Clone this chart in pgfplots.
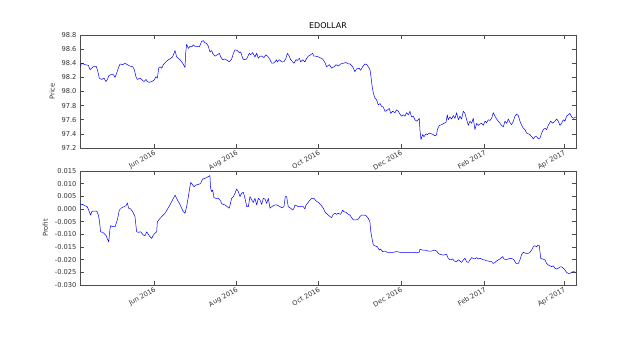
\documentclass[border=0pt]{standalone}
\usepackage{pgfplots}
\pgfplotsset{compat=1.18}
\usepackage{fontspec}
\setmainfont{DejaVu Sans}
\pgfplotsset{
  myax/.style={
    scale only axis, width=496pt, xmin=97, xmax=465,
    xtick={152,213,274,335,397,456},
    xticklabels={Jun 2016,Aug 2016,Oct 2016,Dec 2016,Feb 2017,Apr 2017},
    xticklabel style={rotate=30, anchor=north east, inner sep=1pt, font=\fontsize{6.7}{8}\selectfont, text=black!80},
    yticklabel style={font=\fontsize{6.7}{8}\selectfont, text=black!80},
    ylabel style={font=\fontsize{6.7}{8}\selectfont, text=black!80},
    tick align=inside, tick pos=both,
    major tick length=4pt,
    /pgf/number format/assume math mode=true,
    axis line style={black!70, line width=0.6pt},
    every tick/.style={black!70, line width=0.5pt},
    clip=true,
  },
  myline/.style={blue, line width=0.5pt, line join=round, mark=none},
}
\begin{document}
\begin{tikzpicture}[x=1pt,y=1pt]
\useasboundingbox (0,0) rectangle (640,356);
\begin{axis}[myax, at={(80pt,208pt)}, anchor=south west, height=113pt,
  ymin=97.2, ymax=98.8, ytick={97.2,97.4,...,98.81},
  yticklabel style={/pgf/number format/.cd, fixed, fixed zerofill, precision=1},
  ylabel={Price}, title={EDOLLAR}, title style={font=\fontsize{8}{9}\selectfont, yshift=-3pt}]
\addplot[myline] table {
97.0 98.35
98.2 98.40
100.7 98.38
103.2 98.37
104.4 98.31
105.7 98.33
106.9 98.35
108.9 98.36
109.9 98.31
111.3 98.19
113.1 98.17
114.8 98.19
116.3 98.14
117.3 98.17
118.3 98.22
119.8 98.24
121.7 98.24
123.0 98.20
124.2 98.26
125.4 98.33
126.7 98.39
128.7 98.38
130.4 98.40
132.1 98.38
134.1 98.36
136.1 98.35
137.3 98.31
138.5 98.21
139.5 98.17
141.5 98.19
142.8 98.17
144.5 98.14
146.0 98.17
147.0 98.14
148.4 98.13
150.2 98.14
151.9 98.16
153.4 98.21
154.4 98.19
155.4 98.33
156.4 98.35
157.6 98.33
158.8 98.38
160.8 98.42
162.5 98.45
164.3 98.47
165.7 98.49
166.7 98.54
167.5 98.58
168.7 98.49
170.0 98.47
171.2 98.45
173.2 98.40
174.9 98.34
175.4 98.54
176.1 98.67
177.4 98.61
178.6 98.64
179.8 98.63
181.1 98.66
182.3 98.64
184.0 98.64
185.5 98.63
187.3 98.71
188.5 98.72
189.7 98.69
191.0 98.68
192.2 98.64
193.4 98.56
194.7 98.58
195.4 98.54
197.2 98.50
198.9 98.52
200.4 98.54
201.4 98.49
202.8 98.45
204.6 98.46
206.3 98.44
207.8 98.42
209.5 98.46
210.8 98.54
212.0 98.59
213.7 98.58
215.2 98.55
216.2 98.56
217.7 98.47
218.7 98.45
220.6 98.46
222.6 98.54
223.6 98.52
225.1 98.55
226.8 98.49
228.1 98.54
229.3 98.47
230.5 98.50
231.8 98.50
233.5 98.48
235.0 98.52
236.7 98.49
238.0 98.45
239.2 98.40
240.4 98.40
241.7 98.42
242.9 98.45
243.4 98.42
244.9 98.45
246.6 98.42
248.3 98.42
249.8 98.47
250.8 98.54
252.3 98.50
253.3 98.45
254.8 98.42
255.8 98.40
257.3 98.45
258.2 98.44
259.7 98.47
260.7 98.42
262.2 98.45
263.9 98.42
265.2 98.47
266.4 98.50
268.1 98.52
269.6 98.54
270.6 98.50
272.1 98.50
273.8 98.49
275.0 98.48
277.0 98.46
278.7 98.41
280.0 98.35
282.0 98.38
283.7 98.33
285.4 98.35
286.9 98.38
288.6 98.36
290.4 98.39
292.4 98.40
294.3 98.41
296.1 98.39
297.3 98.39
299.3 98.35
301.0 98.28
302.2 98.32
304.2 98.33
305.2 98.30
306.7 98.35
308.4 98.39
309.7 98.38
310.9 98.35
312.1 98.31
312.9 98.21
313.6 98.09
314.6 97.98
315.8 97.91
317.1 97.88
318.3 97.81
319.6 97.83
320.8 97.79
322.0 97.78
323.3 97.72
324.5 97.73
326.5 97.76
327.5 97.69
329.0 97.72
330.7 97.70
331.9 97.74
333.2 97.72
334.4 97.68
335.6 97.65
336.9 97.67
338.1 97.65
339.3 97.70
340.6 97.67
341.8 97.72
343.0 97.64
344.3 97.65
345.5 97.60
346.8 97.58
348.0 97.60
348.7 97.62
349.2 97.46
350.0 97.32
351.2 97.39
352.2 97.36
353.7 97.40
354.7 97.39
356.2 97.41
357.9 97.40
359.1 97.39
360.4 97.37
361.6 97.39
362.1 97.46
363.6 97.52
365.3 97.53
367.0 97.55
368.5 97.56
369.5 97.67
370.2 97.60
371.5 97.64
372.7 97.61
374.0 97.66
375.2 97.62
376.4 97.70
377.7 97.60
378.9 97.65
380.1 97.61
381.4 97.72
382.6 97.69
383.9 97.60
385.1 97.52
386.3 97.58
387.6 97.55
388.8 97.62
390.0 97.46
391.3 97.55
392.5 97.52
393.7 97.54
395.0 97.55
396.2 97.52
397.5 97.58
398.7 97.56
399.9 97.60
401.2 97.59
402.4 97.62
403.6 97.70
404.9 97.65
406.1 97.61
407.3 97.58
408.6 97.55
409.8 97.52
411.1 97.50
412.3 97.58
413.5 97.55
414.8 97.61
416.0 97.56
417.2 97.53
418.5 97.58
419.7 97.65
420.9 97.68
422.2 97.66
423.4 97.58
424.7 97.52
425.9 97.48
427.1 97.46
428.4 97.41
429.6 97.40
430.8 97.39
432.1 97.36
433.3 97.33
434.5 97.36
435.8 97.36
437.0 97.33
438.3 97.34
439.5 97.41
440.7 97.46
442.0 97.48
443.2 97.46
444.4 97.52
446.2 97.58
447.7 97.55
449.4 97.58
450.6 97.61
451.9 97.58
453.1 97.52
454.3 97.55
455.6 97.60
456.8 97.58
458.0 97.65
459.3 97.67
460.5 97.69
461.7 97.64
463.0 97.62
465.0 97.64
};
\end{axis}
\begin{axis}[myax, at={(80pt,71pt)}, anchor=south west, height=114pt,
  ymin=-0.030, ymax=0.015, ytick={-0.030,-0.025,-0.020,-0.015,-0.010,-0.005,0,0.005,0.010,0.015},
  yticklabel style={/pgf/number format/.cd, fixed, fixed zerofill, precision=3},
  scaled y ticks=false,
  ylabel={Profit}]
\addplot[myline] table {
97.0 0.0016
99.0 0.0018
100.7 0.0013
102.4 0.0009
103.9 -0.0011
104.9 -0.0024
105.7 -0.0011
106.9 -0.0008
108.1 -0.0008
109.4 -0.0008
110.6 -0.0024
111.3 -0.0043
112.3 -0.0090
113.8 -0.0092
114.8 -0.0096
116.3 -0.0105
117.3 -0.0118
118.3 -0.0129
119.3 -0.0076
119.8 -0.0066
121.2 -0.0070
123.0 -0.0070
124.7 -0.0043
126.2 -0.0004
127.9 0.0005
129.6 0.0009
131.1 0.0013
132.1 0.0024
133.1 0.0003
134.6 0.0000
136.1 -0.0011
137.8 -0.0030
139.0 -0.0090
140.3 -0.0092
142.0 -0.0090
144.0 -0.0103
145.2 -0.0105
146.5 -0.0090
147.7 -0.0100
148.9 -0.0109
150.2 -0.0116
151.4 -0.0103
152.6 -0.0096
153.9 -0.0090
154.4 -0.0050
155.9 -0.0040
157.6 -0.0030
159.3 -0.0021
160.8 -0.0011
162.5 0.0005
164.3 0.0022
165.7 0.0036
167.5 0.0055
168.7 0.0042
170.0 0.0029
171.2 0.0018
172.4 0.0003
173.7 -0.0011
174.9 -0.0017
176.1 0.0009
177.4 0.0049
179.1 0.0105
180.6 0.0095
181.6 0.0088
183.1 0.0095
184.8 0.0097
186.5 0.0101
188.0 0.0118
189.7 0.0121
191.0 0.0124
192.2 0.0128
193.4 0.0132
193.9 0.0082
194.7 0.0068
195.4 0.0075
196.4 0.0045
197.9 0.0042
199.6 0.0042
200.9 0.0036
202.1 0.0022
203.3 0.0018
204.6 0.0016
206.3 0.0009
207.8 0.0003
209.5 0.0042
210.8 0.0049
212.0 0.0062
213.2 0.0079
214.5 0.0068
215.7 0.0049
216.9 0.0062
218.2 0.0066
219.4 0.0042
220.7 0.0009
221.9 0.0009
223.1 0.0049
224.4 0.0036
225.6 0.0026
226.8 0.0042
228.1 0.0016
229.3 0.0042
230.5 0.0036
231.8 0.0018
233.0 0.0042
234.3 0.0039
235.5 0.0022
236.7 0.0042
238.0 0.0003
239.2 0.0009
240.4 0.0013
241.7 0.0016
242.9 0.0016
244.1 0.0013
245.4 0.0009
246.6 0.0005
248.3 0.0009
249.3 0.0049
250.3 0.0049
251.5 0.0009
253.3 0.0003
254.8 -0.0004
255.8 0.0003
256.5 0.0016
257.7 0.0013
259.0 0.0009
260.7 0.0009
262.7 0.0009
263.9 0.0000
264.7 0.0016
265.7 0.0022
267.1 0.0032
268.9 0.0042
270.6 0.0042
272.1 0.0032
273.8 0.0026
275.5 0.0018
277.5 0.0003
278.7 -0.0011
280.5 -0.0021
282.5 -0.0030
283.7 -0.0034
284.9 -0.0021
286.2 -0.0017
287.4 -0.0021
288.6 -0.0017
290.4 -0.0021
291.9 -0.0004
292.8 -0.0011
294.3 -0.0013
296.1 -0.0021
297.3 -0.0024
298.5 -0.0034
299.8 -0.0043
301.7 -0.0043
303.5 -0.0040
304.7 -0.0030
305.9 -0.0024
307.7 -0.0024
309.2 -0.0026
310.9 -0.0037
312.1 -0.0050
312.6 -0.0083
313.4 -0.0109
314.6 -0.0142
315.8 -0.0145
317.6 -0.0149
319.1 -0.0162
320.0 -0.0158
321.5 -0.0168
323.3 -0.0166
325.0 -0.0171
327.0 -0.0171
329.4 -0.0171
331.9 -0.0168
334.4 -0.0171
335.6 -0.0171
339.3 -0.0172
344.3 -0.0172
348.7 -0.0171
349.2 -0.0159
351.2 -0.0162
352.9 -0.0162
355.4 -0.0166
357.9 -0.0166
360.4 -0.0162
361.6 -0.0166
362.8 -0.0175
364.1 -0.0179
366.5 -0.0182
369.0 -0.0179
370.2 -0.0195
371.5 -0.0201
373.5 -0.0197
374.5 -0.0205
376.4 -0.0208
377.7 -0.0201
378.9 -0.0205
380.1 -0.0211
381.4 -0.0201
382.6 -0.0195
383.9 -0.0208
385.1 -0.0211
386.3 -0.0201
387.6 -0.0192
388.8 -0.0195
390.0 -0.0197
391.3 -0.0192
392.5 -0.0197
393.7 -0.0195
395.0 -0.0197
396.2 -0.0201
397.5 -0.0201
398.7 -0.0205
399.9 -0.0205
401.2 -0.0208
402.4 -0.0208
403.6 -0.0215
404.9 -0.0211
406.1 -0.0205
407.3 -0.0201
408.6 -0.0197
409.8 -0.0192
410.6 -0.0188
411.5 -0.0197
413.0 -0.0201
414.8 -0.0197
416.0 -0.0195
418.0 -0.0197
419.0 -0.0201
420.5 -0.0215
422.2 -0.0215
423.4 -0.0201
424.7 -0.0179
425.9 -0.0171
427.9 -0.0175
429.6 -0.0175
430.8 -0.0171
432.1 -0.0162
433.3 -0.0149
434.5 -0.0145
435.8 -0.0149
437.0 -0.0142
437.8 -0.0145
438.8 -0.0195
440.2 -0.0197
442.0 -0.0201
443.2 -0.0215
444.4 -0.0221
445.7 -0.0224
446.9 -0.0228
448.1 -0.0224
449.4 -0.0234
450.6 -0.0237
451.9 -0.0234
453.1 -0.0228
454.3 -0.0228
455.6 -0.0234
456.8 -0.0241
458.0 -0.0250
459.3 -0.0254
460.5 -0.0254
461.7 -0.0250
463.0 -0.0247
465.0 -0.0250
};
\end{axis}
\end{tikzpicture}
\end{document}
